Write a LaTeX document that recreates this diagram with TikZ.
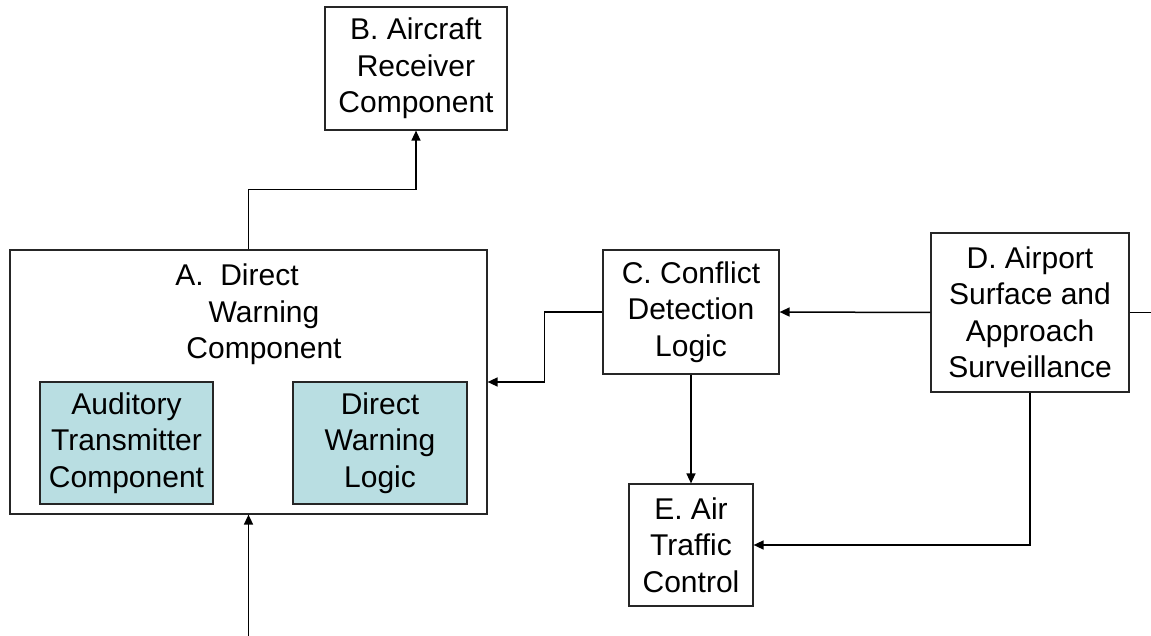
\documentclass[tikz,border=0pt]{standalone}
\usepackage{fontspec}
\setmainfont{Liberation Sans}
\usepackage{xcolor}
\usepackage{tikz}
\usetikzlibrary{positioning, arrows.meta}

\definecolor{boxteal}{RGB}{185,222,226}

\begin{document}
\begin{tikzpicture}[
  x=1pt, y=-1pt,
  blk/.style={rectangle, draw=black!85, line width=1.2pt, fill=white, align=center, inner sep=0pt, font=\fontsize{30}{36.5}\selectfont},
  sub/.style={blk, fill=boxteal},
  arr/.style={-{Triangle[length=10pt, width=9pt]}, line width=1.5pt},
  lnk/.style={line width=1.5pt}
]
  \useasboundingbox (0,0) rectangle (1151,636);

  % A: 外框 + 标题 + 两个子模块
  \node[blk, minimum width=477pt, minimum height=264pt] (A) at (248.5,382) {};
  \node[align=center, inner sep=0pt, font=\fontsize{30}{36.5}\selectfont] (Atitle) at (264,314.5)
    {A.\ \ Direct\hspace*{54pt}\\Warning\\Component};
  \node[sub, minimum width=173pt, minimum height=122pt] (aud) at (126.5,443) {Auditory\\Transmitter\\Component};
  \node[sub, minimum width=174pt, minimum height=122pt] (dwl) at (380,443) {Direct\\Warning\\Logic};

  % B, C, D, E
  \node[blk, minimum width=182pt, minimum height=123pt] (B) at (416,68.5) {B. Aircraft\\Receiver\\Component};
  \node[blk, minimum width=176pt, minimum height=124pt] (C) at (691,312) {C. Conflict\\Detection\\Logic};
  \node[blk, minimum width=198pt, minimum height=159pt] (D) at (1030,312.5) {D. Airport\\Surface and\\Approach\\Surveillance};
  \node[blk, minimum width=124pt, minimum height=122pt] (E) at (691,545) {E. Air\\Traffic\\Control};

  % 自由端
  \coordinate (dout) at (1151,312.5);
  \coordinate (ain) at (248.5,636);

  % 连线
  \draw[arr] (A.north) -- ++(0,-60) -| (B.south);
  \draw[arr] (D.west) -- (C.east);
  \draw[lnk] (D.east) -- (dout);
  \draw[arr] (C.west) -- ++(-58,0) |- (A.east);
  \draw[arr] (C.south) -- (E.north);
  \draw[arr] (D.south) |- (E.east);
  \draw[arr] (ain) -- (A.south);
\end{tikzpicture}
\end{document}
